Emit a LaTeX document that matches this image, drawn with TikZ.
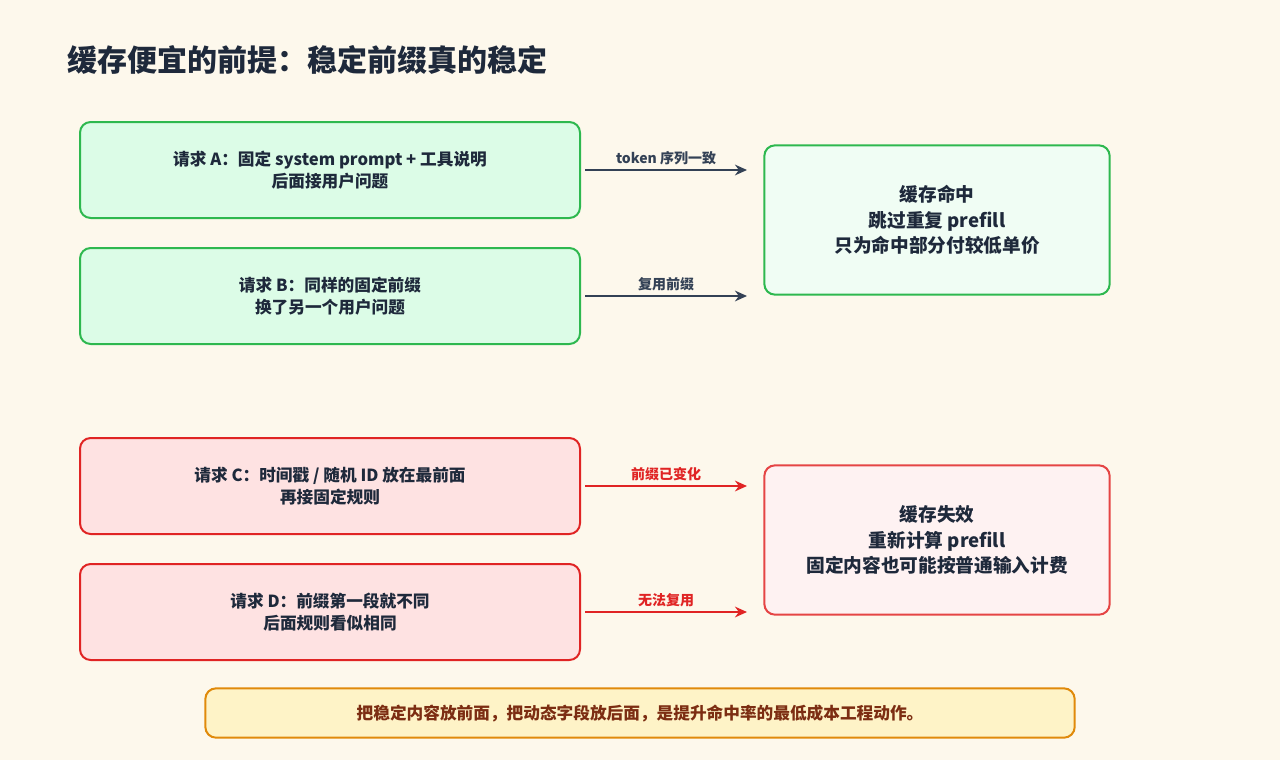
\documentclass[tikz,border=0pt]{standalone}
\usepackage{fontspec}
\setmainfont{Noto Sans CJK SC}
\usetikzlibrary{arrows.meta, positioning}
\definecolor{bgpaper}{HTML}{FDF8EC}
\definecolor{ink}{HTML}{1E293B}
\definecolor{okline}{HTML}{2EB84F}
\definecolor{okfill}{HTML}{DCFCE7}
\definecolor{oklight}{HTML}{F0FDF4}
\definecolor{badline}{HTML}{E02424}
\definecolor{badfill}{HTML}{FEE2E2}
\definecolor{badlight}{HTML}{FEF2F2}
\definecolor{arrowgray}{HTML}{334155}
\definecolor{notefill}{HTML}{FEF3C7}
\definecolor{noteline}{HTML}{E08A0B}
\definecolor{notetext}{HTML}{7C2D12}

\begin{document}
\begin{tikzpicture}[x=0.75pt,y=-0.75pt,>={Stealth[length=9pt,width=8pt]},
    font=\bfseries\fontsize{12.5pt}{16pt}\selectfont, text=ink]
        \tikzstyle{req} = [draw, shape=rectangle, rounded corners=8pt, line width=1.5pt,
        minimum width=375pt, minimum height=72pt, align=center]
        \tikzstyle{res} = [draw, shape=rectangle, rounded corners=8pt, line width=1.5pt,
        minimum width=259pt, minimum height=112pt, align=center,
        font=\bfseries\fontsize{14pt}{19pt}\selectfont]
        \tikzstyle{lbl} = [above, font=\bfseries\fontsize{10.5pt}{12pt}\selectfont]
        % Background
        \fill[bgpaper] (0,0) rectangle (1280,760);
        \node[anchor=west, font=\bfseries\fontsize{22.5pt}{26pt}\selectfont] (title) at (63,60) {缓存便宜的前提：稳定前缀真的稳定};
        % Creating Blocks
        \node [req, draw=okline, fill=okfill] (reqA) at (330,170) {请求 A：固定 system prompt + 工具说明\\后面接用户问题};
        \node [req, draw=okline, fill=okfill] (reqB) at (330,296) {请求 B：同样的固定前缀\\换了另一个用户问题};
        \node [req, draw=badline, fill=badfill] (reqC) at (330,486) {请求 C：时间戳 / 随机 ID 放在最前面\\再接固定规则};
        \node [req, draw=badline, fill=badfill] (reqD) at (330,612) {请求 D：前缀第一段就不同\\后面规则看似相同};
        \node [res, draw=okline, fill=oklight] (hit) at (937,220) {缓存命中\\跳过重复 prefill\\只为命中部分付较低单价};
        \node [res, draw=badline!85, fill=badlight] (miss) at (937,540) {缓存失效\\重新计算 prefill\\固定内容也可能按普通输入计费};
        \node [draw=noteline, fill=notefill, text=notetext, rounded corners=8pt, line width=1.5pt,
        minimum width=652pt, minimum height=37pt] (note) at (640,713) {把稳定内容放前面，把动态字段放后面，是提升命中率的最低成本工程动作。};
        % Arrow ends
        \coordinate (endA) at (747,170);
        \coordinate (endB) at (747,296);
        \coordinate (endC) at (747,486);
        \coordinate (endD) at (747,612);
        %Connecting Blocks
        \begin{scope}[line width=1.5pt]
            \draw[->, arrowgray] (reqA.east) ++(4,0) -- node[lbl, text=arrowgray] {token 序列一致} (endA);
            \draw[->, arrowgray] (reqB.east) ++(4,0) -- node[lbl, text=arrowgray] {复用前缀} (endB);
            \draw[->, badline] (reqC.east) ++(4,0) -- node[lbl, text=badline] {前缀已变化} (endC);
            \draw[->, badline] (reqD.east) ++(4,0) -- node[lbl, text=badline] {无法复用} (endD);
        \end{scope}
    \end{tikzpicture}
\end{document}
